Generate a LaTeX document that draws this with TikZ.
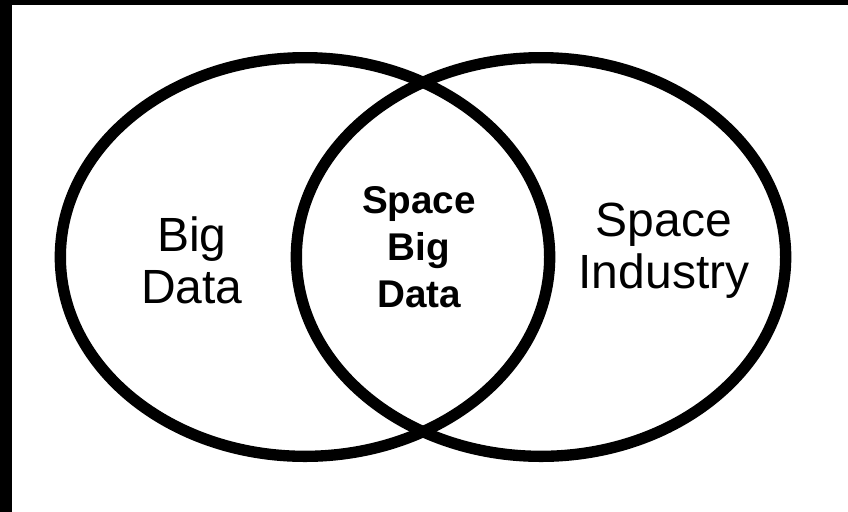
\documentclass[tikz,border=0pt]{standalone}
\usepackage{fontspec}
\setmainfont{Liberation Sans}
\usepackage{tikz}
\usetikzlibrary{shapes.geometric}
\tikzset{
    set/.style={
    ellipse,draw=black,line width=8.5pt,minimum width=367pt,minimum height=299pt,inner sep=0pt
    },
    setlabel/.style={
    align=center,font=\fontsize{36pt}{39pt}\selectfont,inner sep=0pt
    },
    meetlabel/.style={
    align=center,font=\fontsize{29pt}{35pt}\selectfont\bfseries,inner sep=0pt
    },
    frame/.style={
    fill=black,draw=none
    },
}
\begin{document}
\begin{tikzpicture}[x=0.75pt, y=-0.75pt]
   \useasboundingbox (0,0) rectangle (848,511);
   \fill[white] (-5,-5) rectangle (853,516);
   % dark screen edge along the top and the left
   \fill[frame] (-5,-5) rectangle (853,5);
   \fill[frame] (-5,-5) rectangle (12,516);

   \node[set] (bigdata) at (305,257) {};
   \node[set] (industry) at (541,257) {};

   % base anchor sits on the last line
   \node[setlabel, anchor=base] (bdtext) at (192,303) {Big\\Data};
   \node[setlabel, anchor=base] (sitext) at (664,288) {Space\\Industry};
   \node[meetlabel, anchor=base] (sbdtext) at (419,307) {Space\\Big\\Data};
\end{tikzpicture}
\end{document}
